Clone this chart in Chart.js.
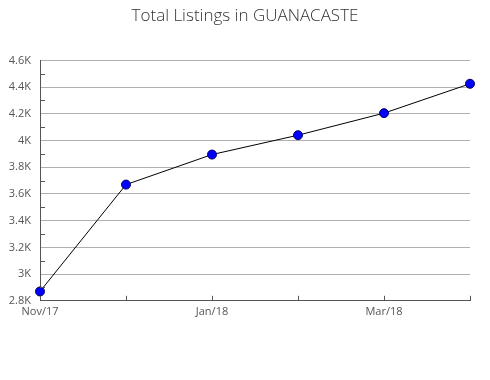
<!DOCTYPE html>
<html>
<head>
<meta charset="utf-8">
<script src="https://cdn.jsdelivr.net/npm/chart.js@4/dist/chart.umd.min.js"></script>
<style>
  html, body { margin: 0; padding: 0; background: #fff; }
  #wrap { width: 490px; height: 380px; }
</style>
</head>
<body>
<div id="wrap"><canvas id="c" width="490" height="380"></canvas></div>
<script>
const titleText = 'Total Listings in GUANACASTE';
const months = ['Nov/17', 'Dec/17', 'Jan/18', 'Feb/18', 'Mar/18', 'Apr/18'];
const listings = [2870, 3670, 3895, 4040, 4205, 4425];
const shownMonthLabels = ['Nov/17', 'Jan/18', 'Mar/18'];
const yMin = 2800, yMax = 4600, yStep = 200, yMinorStep = 100;

const FONT = '"Open Sans", "Noto Sans", sans-serif';

const tickMarks = {
  id: 'tickMarks',
  afterDraw(chart) {
    const ctx = chart.ctx;
    const xs = chart.scales.x, ys = chart.scales.y;
    const area = chart.chartArea;
    ctx.save();
    ctx.strokeStyle = '#555';
    ctx.lineWidth = 1;
    ctx.beginPath();
    for (let i = 0; i < months.length; i++) {
      const px = Math.round(xs.getPixelForValue(i)) + 0.5;
      ctx.moveTo(px, area.bottom);
      ctx.lineTo(px, area.bottom - 5);
    }
    for (let v = yMin + yMinorStep; v < yMax; v += yStep) {
      const py = Math.round(ys.getPixelForValue(v)) + 0.5;
      ctx.moveTo(area.left, py);
      ctx.lineTo(area.left + 5, py);
    }
    ctx.stroke();
    ctx.restore();
  }
};

new Chart(document.getElementById('c'), {
  type: 'line',
  data: {
    labels: months,
    datasets: [{
      data: listings,
      borderColor: '#000',
      borderWidth: 1,
      pointBackgroundColor: '#0000ff',
      pointBorderColor: '#000060',
      pointBorderWidth: 1,
      pointRadius: 4.5,
      tension: 0,
      fill: false
    }]
  },
  options: {
    responsive: false,
    animation: false,
    devicePixelRatio: 1,
    layout: { padding: { top: 0, right: 0, bottom: 58, left: 0 } },
    plugins: {
      legend: { display: false },
      tooltip: { enabled: false },
      title: {
        display: true,
        text: titleText,
        color: '#333',
        font: { family: FONT, size: 17, weight: 300, lineHeight: 1.2 },
        padding: { top: 6, bottom: 34 }
      }
    },
    scales: {
      x: {
        type: 'category',
        offset: false,
        grid: { display: false, drawTicks: false },
        border: { display: true, color: '#555', width: 1 },
        ticks: {
          autoSkip: false,
          maxRotation: 0,
          padding: 4,
          color: '#555',
          font: { family: FONT, size: 11 },
          callback: function(v, i) {
            const l = months[i];
            return shownMonthLabels.includes(l) ? l : '';
          }
        }
      },
      y: {
        min: yMin,
        max: yMax,
        afterFit(scale) { scale.width = 40; },
        grid: { display: true, color: '#b0b0b0', drawTicks: false, lineWidth: 1 },
        border: { display: true, color: '#555', width: 1 },
        ticks: {
          stepSize: yStep,
          padding: 9,
          color: '#555',
          font: { family: FONT, size: 11 },
          callback: function(v) { return (v / 1000) + 'K'; }
        }
      },
      yRight: {
        position: 'right',
        min: yMin,
        max: yMax,
        afterFit(scale) { scale.width = 20; },
        grid: { display: false, drawTicks: false },
        border: { display: false },
        ticks: { display: false }
      }
    }
  },
  plugins: [tickMarks]
});
</script>
</body>
</html>
